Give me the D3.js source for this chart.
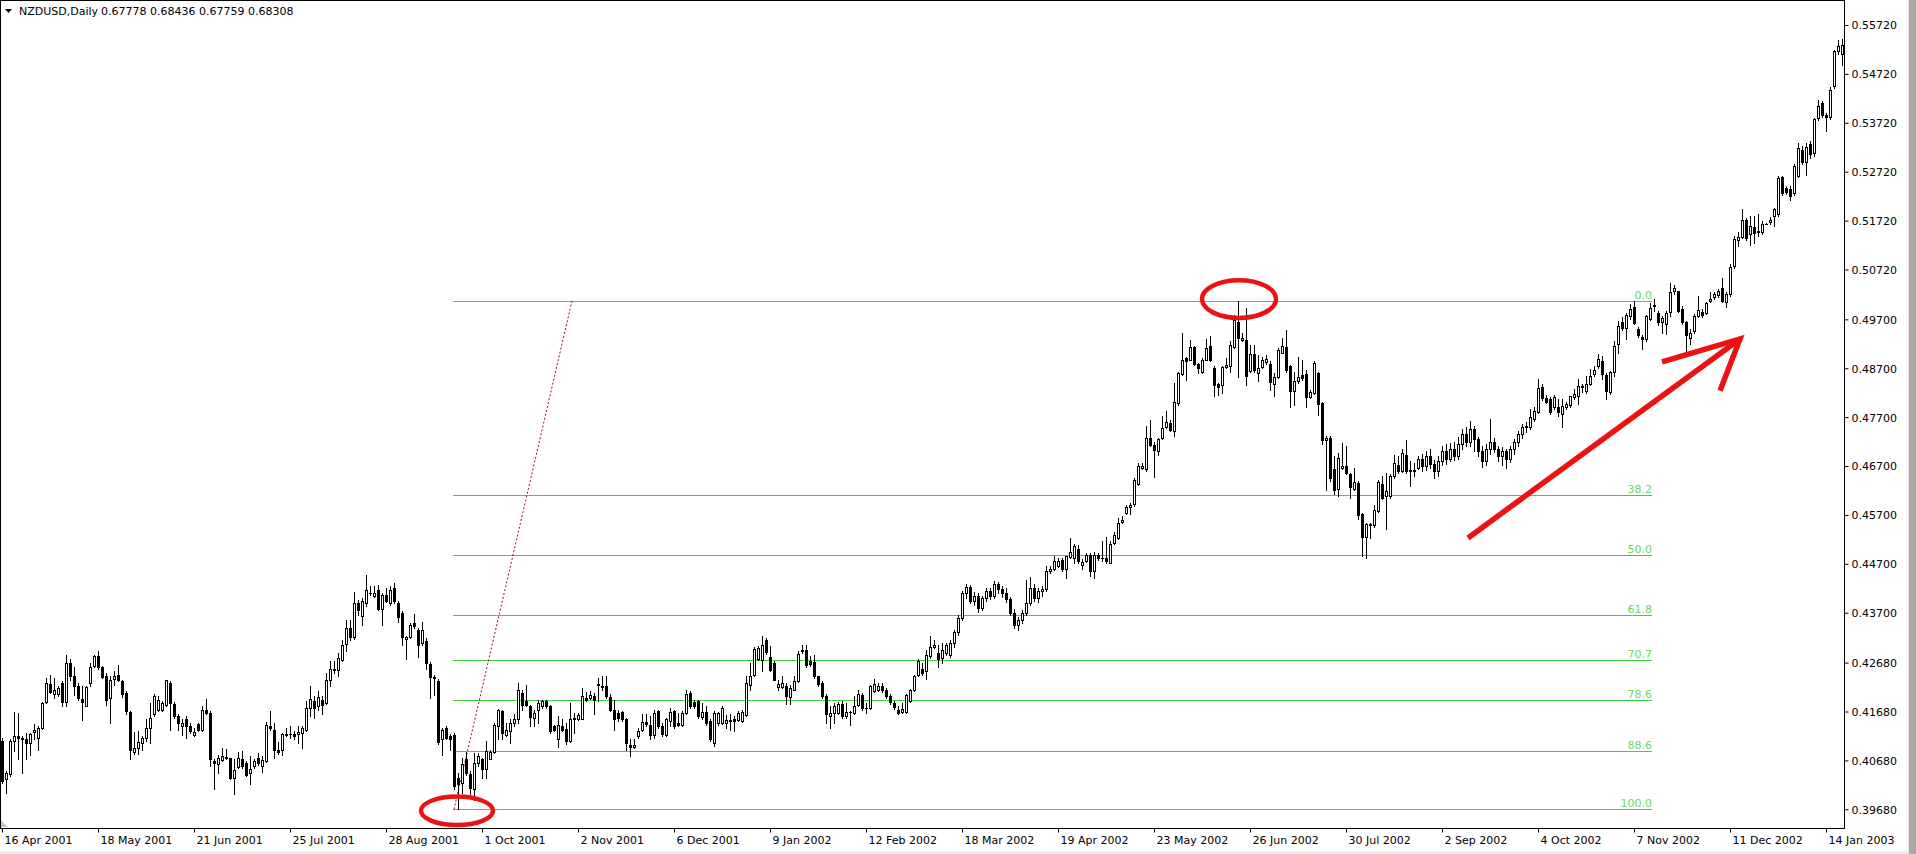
<!DOCTYPE html>
<html><head><meta charset="utf-8">
<script src="https://cdn.jsdelivr.net/npm/d3@7"></script>
<style>
html,body{margin:0;padding:0;background:#fff;}
svg{display:block;}
text{font-family:"DejaVu Sans",Verdana,sans-serif;font-size:11px;fill:#000;}
</style></head><body>
<svg id="chart" width="1916" height="854"></svg>
<script>
// ---------- DATA ----------
const symbolTitle = "NZDUSD,Daily";
const titleQuote = "0.67778 0.68436 0.67759 0.68308";
const PIP = 0.0001;            // prices below are stored in pips
// bar 0 = 16 Apr 2001, one bar per weekday
const dateLabels = ["16 Apr 2001","18 May 2001","21 Jun 2001","25 Jul 2001","28 Aug 2001","1 Oct 2001","2 Nov 2001","6 Dec 2001","9 Jan 2002","12 Feb 2002","18 Mar 2002","19 Apr 2002","23 May 2002","26 Jun 2002","30 Jul 2002","2 Sep 2002","4 Oct 2002","7 Nov 2002","11 Dec 2002","14 Jan 2003"];
const labelBars = [0,24,48,72,96,120,144,168,192,216,240,264,288,312,336,360,384,408,432,456];
const priceTicks = [0.55720,0.54720,0.53720,0.52720,0.51720,0.50720,0.49700,0.48700,0.47700,0.46700,0.45700,0.44700,0.43700,0.42680,0.41680,0.40680,0.39680];

const opens = [
4107,4029,4040,4107,4118,4114,4111,4104,4126,4114,
4135,4187,4224,4203,4203,4226,4187,4267,4240,4221,
4194,4180,4226,4262,4281,4259,4241,4196,4235,4243,
4230,4206,4168,4085,4094,4103,4113,4135,4162,4172,
4172,4182,4226,4184,4158,4138,4152,4138,4120,4142,
4130,4172,4164,4066,4061,4069,4075,4072,4031,4055,
4070,4062,4043,4056,4073,4056,4067,4138,4130,4090,
4089,4119,4122,4121,4122,4124,4131,4175,4189,4179,
4192,4186,4232,4254,4252,4274,4307,4339,4320,4390,
4364,4390,4411,4405,4417,4377,4407,4390,4420,4390,
4369,4316,4320,4349,4335,4308,4313,4266,4239,4231,
4112,4135,4118,4119,4033,4021,4070,4041,4010,4062,
4070,4051,4071,4085,4138,4169,4119,4128,4145,4152,
4206,4189,4179,4155,4172,4179,4189,4179,4138,4111,
4138,4133,4107,4155,4153,4153,4196,4196,4199,4222,
4221,4220,4198,4172,4165,4167,4153,4100,4095,4118,
4130,4147,4141,4119,4169,4138,4119,4148,4169,4145,
4141,4164,4205,4187,4189,4157,4167,4148,4103,4145,
4145,4145,4150,4152,4150,4148,4160,4223,4243,4275,
4274,4315,4279,4267,4218,4218,4220,4197,4213,4230,
4291,4293,4271,4269,4240,4226,4199,4158,4164,4164,
4184,4158,4167,4164,4182,4201,4175,4175,4209,4213,
4221,4211,4199,4186,4172,4167,4167,4189,4211,4243,
4254,4250,4281,4300,4288,4277,4288,4284,4309,4330,
4360,4410,4422,4395,4405,4380,4400,4415,4405,4428,
4418,4410,4398,4370,4345,4355,4370,4390,4420,4400,
4415,4418,4455,4460,4465,4478,4459,4483,4481,4501,
4467,4476,4489,4455,4488,4481,4481,4472,4512,4523,
4555,4573,4587,4593,4634,4666,4663,4727,4714,4700,
4727,4750,4759,4741,4799,4859,4891,4887,4913,4879,
4863,4887,4916,4870,4838,4836,4872,4875,4913,4965,
4927,4928,4865,4899,4861,4872,4882,4879,4838,4852,
4902,4914,4874,4823,4843,4857,4859,4811,4819,4861,
4799,4724,4727,4663,4623,4666,4670,4653,4623,4636,
4571,4525,4551,4549,4578,4634,4608,4608,4649,4673,
4659,4693,4659,4661,4666,4685,4670,4690,4675,4660,
4680,4700,4685,4705,4690,4715,4735,4720,4745,4725,
4700,4680,4705,4720,4705,4690,4700,4685,4705,4720,
4735,4749,4749,4766,4781,4831,4809,4807,4790,4790,
4777,4790,4794,4811,4814,4834,4824,4838,4858,4875,
4885,4856,4822,4862,4919,4965,4953,4977,4996,4950,
4933,4930,4970,4997,4983,4965,4960,4985,5028,5027,
4992,4964,4931,4947,4977,4985,4984,5008,5015,5019,
5035,5006,5021,5079,5132,5139,5174,5144,5159,5148,
5149,5166,5170,5181,5185,5261,5239,5237,5229,5264,
5317,5291,5329,5310,5382,5412,5387,5384,5448,5518,
5513];
const highs = [
4114,4046,4111,4167,4165,4118,4124,4124,4143,4138,
4187,4237,4243,4237,4221,4230,4284,4275,4260,4226,
4220,4221,4267,4284,4291,4262,4247,4240,4250,4264,
4233,4209,4169,4126,4128,4118,4153,4186,4203,4199,
4189,4233,4230,4187,4162,4153,4158,4145,4135,4145,
4180,4194,4169,4070,4079,4094,4092,4073,4070,4086,
4087,4067,4077,4070,4084,4077,4146,4169,4145,4105,
4124,4135,4138,4128,4138,4138,4189,4220,4199,4209,
4199,4247,4271,4271,4288,4315,4356,4356,4412,4396,
4400,4447,4424,4425,4427,4410,4420,4424,4430,4393,
4373,4322,4349,4367,4339,4352,4318,4269,4242,4235,
4135,4138,4121,4124,4043,4073,4085,4046,4084,4084,
4073,4107,4090,4145,4173,4172,4145,4152,4162,4226,
4213,4223,4182,4172,4192,4192,4192,4182,4141,4158,
4152,4145,4186,4165,4165,4216,4207,4209,4206,4237,
4240,4241,4203,4192,4172,4169,4155,4111,4111,4135,
4162,4162,4158,4171,4172,4145,4155,4175,4172,4165,
4169,4211,4209,4192,4192,4186,4179,4152,4169,4167,
4179,4160,4162,4158,4169,4172,4241,4267,4300,4301,
4323,4318,4301,4271,4233,4240,4226,4223,4240,4291,
4303,4305,4281,4284,4241,4230,4203,4179,4186,4187,
4189,4186,4169,4199,4211,4206,4186,4223,4235,4226,
4226,4216,4203,4189,4179,4186,4203,4214,4243,4275,
4267,4294,4322,4315,4305,4308,4309,4315,4335,4365,
4415,4428,4426,4412,4410,4405,4420,4420,4435,4432,
4425,4420,4402,4378,4362,4375,4437,4444,4428,4420,
4425,4466,4466,4486,4481,4481,4487,4523,4510,4508,
4479,4493,4493,4494,4493,4517,4525,4517,4535,4564,
4568,4591,4595,4646,4676,4676,4751,4765,4720,4727,
4772,4782,4765,4840,4863,4942,4894,4927,4916,4880,
4891,4929,4936,4874,4840,4875,4891,4925,4979,5008,
4942,4993,4918,4918,4897,4894,4897,4884,4860,4911,
4931,4948,4877,4863,4894,4887,4867,4826,4884,4863,
4800,4732,4731,4690,4697,4717,4710,4656,4666,4639,
4574,4554,4554,4591,4641,4649,4656,4653,4693,4690,
4704,4724,4680,4676,4690,4695,4700,4705,4682,4690,
4712,4715,4718,4720,4730,4745,4750,4762,4752,4730,
4710,4715,4766,4728,4712,4708,4705,4712,4725,4742,
4755,4760,4787,4790,4848,4838,4815,4811,4816,4807,
4807,4802,4814,4828,4848,4838,4855,4869,4874,4899,
4895,4860,4865,4926,4967,4974,4984,5001,5008,4955,
4938,4979,5003,5011,4987,4976,4987,5044,5040,5028,
4997,4967,4950,4980,5018,4992,5006,5025,5025,5032,
5055,5025,5083,5140,5149,5195,5178,5181,5181,5185,
5171,5168,5180,5198,5263,5264,5242,5242,5287,5331,
5324,5330,5335,5382,5418,5416,5392,5445,5521,5542,
5543];
const lows = [
4021,4002,4036,4087,4070,4043,4070,4080,4111,4089,
4133,4186,4206,4196,4199,4180,4179,4233,4201,4192,
4150,4179,4220,4260,4254,4237,4182,4145,4223,4230,
4198,4162,4070,4082,4082,4089,4107,4103,4158,4169,
4169,4179,4131,4155,4131,4119,4114,4124,4118,4128,
4128,4162,4056,4009,4043,4067,4070,4029,4000,4053,
4053,4037,4020,4053,4058,4044,4065,4131,4073,4082,
4080,4118,4114,4111,4104,4094,4128,4158,4155,4172,
4162,4184,4220,4247,4240,4271,4291,4315,4316,4366,
4345,4384,4407,4402,4376,4345,4391,4386,4390,4352,
4305,4275,4318,4339,4279,4305,4254,4196,4201,4101,
4080,4111,4090,4009,3968,4002,4039,3999,3988,4056,
4033,4033,4070,4084,4111,4111,4118,4104,4138,4145,
4172,4179,4138,4138,4145,4175,4175,4124,4128,4096,
4128,4101,4105,4124,4150,4152,4189,4194,4162,4190,
4213,4196,4169,4131,4148,4148,4090,4078,4094,4114,
4128,4139,4111,4114,4135,4118,4118,4138,4135,4138,
4138,4162,4175,4175,4155,4152,4141,4107,4097,4141,
4143,4135,4130,4128,4148,4146,4158,4213,4240,4274,
4250,4286,4250,4232,4213,4216,4184,4184,4211,4228,
4288,4260,4262,4237,4221,4196,4145,4135,4145,4162,
4155,4155,4141,4162,4179,4172,4164,4173,4207,4209,
4207,4196,4184,4173,4162,4164,4165,4187,4209,4241,
4243,4235,4277,4298,4260,4267,4284,4280,4300,4325,
4355,4400,4390,4385,4372,4375,4395,4398,4400,4410,
4402,4392,4365,4338,4335,4350,4365,4385,4395,4392,
4405,4415,4452,4458,4464,4455,4442,4481,4471,4472,
4460,4474,4445,4442,4478,4476,4472,4471,4510,4521,
4554,4571,4571,4589,4632,4664,4659,4710,4648,4693,
4725,4748,4741,4731,4795,4857,4846,4886,4877,4860,
4861,4886,4884,4814,4816,4819,4870,4863,4911,4853,
4925,4836,4863,4863,4843,4870,4879,4826,4814,4850,
4901,4863,4791,4795,4840,4846,4791,4809,4818,4775,
4716,4622,4639,4612,4608,4663,4653,4605,4622,4561,
4486,4481,4523,4546,4576,4602,4542,4605,4646,4656,
4657,4656,4629,4649,4663,4660,4662,4665,4645,4650,
4672,4675,4680,4682,4685,4705,4710,4712,4700,4690,
4668,4672,4695,4698,4680,4672,4665,4678,4695,4712,
4728,4740,4745,4762,4778,4805,4798,4777,4787,4773,
4749,4787,4790,4808,4797,4821,4820,4835,4855,4870,
4848,4808,4817,4855,4901,4948,4930,4970,4960,4933,
4909,4926,4969,4987,4958,4942,4940,4976,5022,4985,
4960,4904,4919,4943,4975,4975,4980,5005,5012,5015,
5005,4996,5018,5076,5120,5137,5132,5123,5127,5140,
5145,5164,5166,5161,5182,5225,5227,5214,5225,5262,
5288,5266,5300,5305,5378,5384,5355,5380,5443,5512,
5491];
const closes = [
4026,4043,4107,4118,4114,4111,4104,4121,4131,4135,
4186,4226,4207,4213,4216,4187,4267,4240,4220,4196,
4187,4218,4259,4282,4260,4239,4192,4233,4240,4233,
4203,4169,4090,4093,4105,4113,4135,4155,4199,4192,
4186,4232,4186,4158,4145,4145,4138,4128,4127,4130,
4172,4165,4070,4062,4072,4078,4072,4033,4048,4072,
4056,4039,4050,4066,4062,4068,4141,4135,4090,4085,
4122,4122,4121,4118,4127,4135,4175,4194,4175,4198,
4182,4232,4254,4252,4277,4305,4339,4320,4390,4376,
4393,4417,4410,4410,4377,4407,4395,4417,4393,4362,
4320,4320,4345,4342,4305,4334,4267,4239,4237,4105,
4131,4114,4111,4016,4019,4060,4043,4012,4062,4077,
4051,4087,4085,4141,4171,4124,4131,4145,4152,4213,
4182,4182,4157,4165,4186,4189,4179,4128,4131,4141,
4131,4107,4153,4152,4160,4199,4192,4201,4192,4225,
4218,4199,4171,4152,4155,4152,4103,4095,4100,4128,
4146,4143,4119,4165,4138,4121,4152,4167,4138,4141,
4164,4203,4179,4179,4158,4167,4145,4111,4164,4164,
4175,4150,4148,4148,4164,4167,4226,4241,4296,4298,
4305,4289,4252,4233,4225,4226,4199,4216,4230,4286,
4294,4264,4266,4240,4225,4199,4162,4164,4179,4184,
4158,4167,4166,4179,4203,4175,4176,4220,4225,4220,
4211,4199,4187,4177,4164,4173,4201,4211,4241,4271,
4247,4284,4300,4305,4275,4293,4305,4309,4330,4360,
4410,4422,4395,4405,4380,4400,4415,4405,4428,4418,
4410,4398,4370,4345,4355,4370,4390,4420,4400,4415,
4418,4455,4460,4476,4476,4459,4486,4494,4506,4476,
4474,4489,4455,4489,4481,4481,4476,4510,4530,4554,
4559,4587,4591,4641,4670,4671,4727,4714,4702,4725,
4748,4761,4744,4802,4860,4886,4884,4913,4879,4870,
4886,4911,4887,4836,4831,4872,4877,4918,4969,4931,
4931,4855,4899,4867,4870,4887,4889,4841,4852,4908,
4916,4867,4823,4843,4852,4850,4811,4821,4880,4797,
4724,4727,4646,4622,4687,4671,4656,4627,4637,4569,
4525,4551,4549,4581,4637,4605,4619,4649,4676,4659,
4697,4659,4661,4659,4685,4670,4690,4675,4660,4680,
4700,4685,4705,4690,4715,4735,4720,4745,4725,4700,
4680,4705,4720,4705,4690,4700,4685,4705,4720,4735,
4749,4752,4770,4783,4829,4809,4802,4780,4811,4780,
4792,4797,4813,4817,4834,4831,4838,4855,4866,4889,
4858,4824,4863,4915,4957,4953,4979,4992,4962,4938,
4930,4976,4994,5000,4965,4972,4984,5025,5035,4987,
4964,4938,4943,4977,4989,4979,5004,5011,5021,5028,
5008,5021,5078,5135,5139,5174,5137,5161,5146,5151,
5166,5166,5174,5195,5259,5229,5230,5222,5283,5321,
5291,5323,5308,5380,5406,5387,5384,5440,5518,5529,
5531];

// Fibonacci retracement drawn on the chart
const fibHigh = 0.5008, fibLow = 0.3968;
const fibLevels = [0, 38.2, 50, 61.8, 70.7, 78.6, 88.6, 100];
const fibLabels = ["0.0","38.2","50.0","61.8","70.7","78.6","88.6","100.0"];
const fibStartBar = 112.75, fibEndBar = 412.5;      // extent of level lines
const fibTrend = [{bar:113, price:0.3968}, {bar:142.5, price:0.5008}];
// hand-drawn annotations (bar index / price units)
const ellipses = [{bar:113.75, price:0.39650, rxBars:9.0, ryPrice:0.00290},
                  {bar:309.25, price:0.50115, rxBars:9.25, ryPrice:0.00385}];
const arrowShaft = [{bar:366.5, price:0.45230}, {bar:434.5, price:0.49300}];
const arrowHead  = [{bar:415.0, price:0.48830}, {bar:434.5, price:0.49300}, {bar:429.5, price:0.48240}];

// ---------- CHART ----------
const W = 1916, H = 854;
const plotR = 1844, plotB = 828;
const svg = d3.select("#chart");
const x = d3.scaleLinear().domain([0, 460]).range([2, 1842]);
const y = d3.scaleLinear().domain([0.39680, 0.55720]).range([809.3, 25]);

const bars = opens.map((o,i)=>({i, o:o*PIP, h:highs[i]*PIP, l:lows[i]*PIP, c:closes[i]*PIP}));

// window edges
svg.append("rect").attr("x",0).attr("y",0).attr("width",W).attr("height",H).attr("fill","#fff");
svg.append("rect").attr("x",1909).attr("y",0).attr("width",7).attr("height",H).attr("fill","#a9a9a9");
svg.append("line").attr("x1",1908.5).attr("x2",1908.5).attr("y1",0).attr("y2",852).attr("stroke","#e3e3e3");
svg.append("rect").attr("x",0).attr("y",851).attr("width",1909).attr("height",3).attr("fill","#ececec");

svg.append("defs").append("clipPath").attr("id","plotclip")
  .append("rect").attr("x",1).attr("y",1).attr("width",plotR-1).attr("height",plotB-1);

const plot = svg.append("g").attr("clip-path","url(#plotclip)");

// fib levels
const fibG = plot.append("g");
const fibPrice = lv => fibHigh - (fibHigh - fibLow) * lv / 100;
fibLevels.forEach((lv,k)=>{
  const yy = Math.round(y(fibPrice(lv))) + 0.5;
  fibG.append("line").attr("x1", x(fibStartBar)).attr("x2", x(fibEndBar))
    .attr("y1", yy).attr("y2", yy).attr("stroke","#3fcf3f").attr("stroke-width",1);
  fibG.append("text").attr("x", x(fibEndBar)).attr("y", yy - 3)
    .attr("text-anchor","end").style("fill","#6ad86a").text(fibLabels[k]);
});
fibG.append("line")
  .attr("x1", x(fibTrend[0].bar)).attr("y1", y(fibTrend[0].price))
  .attr("x2", x(fibTrend[1].bar)).attr("y2", y(fibTrend[1].price))
  .attr("stroke","#9b1010").attr("stroke-width",1).attr("stroke-dasharray","2,2");

// candles
const cg = plot.append("g");
bars.forEach(b=>{
  const px = Math.round(x(b.i));
  const cx = px + 0.5;
  cg.append("line").attr("x1",cx).attr("x2",cx)
    .attr("y1", Math.round(y(b.h))).attr("y2", Math.round(y(b.l)) + 1)
    .attr("stroke","#000").attr("stroke-width",1);
  const top = Math.round(y(Math.max(b.o,b.c)));
  const bot = Math.round(y(Math.min(b.o,b.c)));
  const bull = b.c >= b.o;
  if (bot - top < 1) {
    cg.append("line").attr("x1",px-1).attr("x2",px+2).attr("y1",top+0.5).attr("y2",top+0.5)
      .attr("stroke","#000");
  } else {
    cg.append("rect").attr("x",px-0.5).attr("y",top+0.5).attr("width",2).attr("height",bot-top)
      .attr("fill", bull ? "#fff" : "#000").attr("stroke","#000").attr("stroke-width",1);
  }
});

// small grey corner marker
plot.append("path").attr("d","M1,820 L1,827 L8,827 Z").attr("fill","#c8c8c8");

// annotations
const ann = svg.append("g");
ellipses.forEach(e=>{
  ann.append("ellipse").attr("cx", x(e.bar)).attr("cy", y(e.price))
    .attr("rx", x(e.rxBars) - x(0)).attr("ry", y(0) - y(e.ryPrice))
    .attr("fill","none").attr("stroke","#ee1111").attr("stroke-width",4.5);
});
const ln = d3.line().x(d=>x(d.bar)).y(d=>y(d.price));
ann.append("path").attr("d", ln(arrowShaft)).attr("fill","none")
  .attr("stroke","#ee1111").attr("stroke-width",5.5);
ann.append("path").attr("d", ln(arrowHead)).attr("fill","none")
  .attr("stroke","#ee1111").attr("stroke-width",5.5).attr("stroke-linejoin","miter");

// frame
svg.append("rect").attr("x",0.5).attr("y",0.5).attr("width",plotR).attr("height",plotB)
  .attr("fill","none").attr("stroke","#000").attr("stroke-width",1);

// y axis
const yAxis = svg.append("g").attr("transform",`translate(${plotR+0.5},0)`)
  .call(d3.axisRight(y).tickValues(priceTicks).tickSize(4).tickPadding(3).tickFormat(d3.format(".5f")));
yAxis.select(".domain").remove();
yAxis.attr("font-family",null).attr("font-size",null);
yAxis.selectAll("text").attr("dy","0.35em");

// x axis
const xAxis = svg.append("g").attr("transform",`translate(0,${plotB+0.5})`)
  .call(d3.axisBottom(x).tickValues(labelBars).tickSize(4).tickFormat((d,k)=>dateLabels[k]));
xAxis.select(".domain").remove();
xAxis.attr("font-family",null).attr("font-size",null);
xAxis.selectAll("text").attr("text-anchor","start").attr("x",2).attr("y",15.5).attr("dy",null);

// title
svg.append("path").attr("d","M5,9 L12,9 L8.5,13 Z").attr("fill","#000");
svg.append("text").attr("x",19).attr("y",15).text(symbolTitle);
svg.append("text").attr("x",101).attr("y",15).text(titleQuote);
</script>
</body></html>
